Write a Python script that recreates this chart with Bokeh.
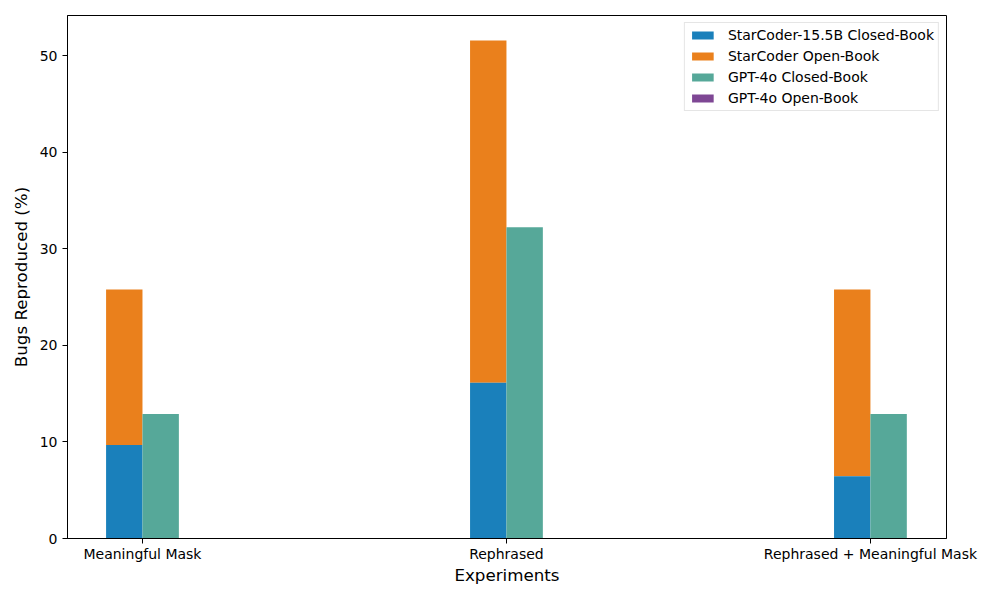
from bokeh.plotting import figure
from bokeh.models import Range1d, FixedTicker, Legend, LegendItem
from bokeh.embed import file_html
from bokeh.resources import INLINE

categories = ["Meaningful Mask", "Rephrased", "Rephrased + Meaningful Mask"]
starcoder_closed = [9.68, 16.13, 6.45]
starcoder_open_total = [25.81, 51.61, 25.81]
gpt4o_closed = [12.90, 32.26, 12.90]
gpt4o_open = [0.0, 0.0, 0.0]

series_names = ["StarCoder-15.5B Closed-Book", "StarCoder Open-Book",
                "GPT-4o Closed-Book", "GPT-4o Open-Book"]
colors = ["#1a80bb", "#ea801c", "#56a899", "#7e4794"]

x = list(range(len(categories)))
w = 0.1
x_left = [i - w / 2 for i in x]
x_right = [i + w / 2 for i in x]

FONT = "DejaVu Sans"

p = figure(width=984, height=587, output_backend="svg", toolbar_location=None,
           x_range=Range1d(-0.206, 2.209), y_range=Range1d(0, 54.19),
           min_border_left=67, min_border_right=38, min_border_top=15, min_border_bottom=35)

r_open = p.vbar(x=x_left, bottom=starcoder_closed, top=starcoder_open_total, width=w,
                fill_color=colors[1], line_color=None)
r_closed = p.vbar(x=x_left, bottom=0, top=starcoder_closed, width=w,
                  fill_color=colors[0], line_color=None)
r_gc = p.vbar(x=x_right, bottom=0, top=gpt4o_closed, width=w,
              fill_color=colors[2], line_color=None)
r_go = p.vbar(x=x_right, bottom=gpt4o_closed, top=[a + b for a, b in zip(gpt4o_closed, gpt4o_open)],
              width=w, fill_color=colors[3], line_color=None)

p.xgrid.visible = False
p.ygrid.visible = False
p.outline_line_color = "black"
p.outline_line_width = 1
p.background_fill_color = "white"
p.border_fill_color = "white"

p.xaxis.ticker = FixedTicker(ticks=x)
p.xaxis.major_label_overrides = {i: c for i, c in zip(x, categories)}
p.yaxis.ticker = FixedTicker(ticks=[0, 10, 20, 30, 40, 50])

for ax in (p.xaxis[0], p.yaxis[0]):
    ax.axis_line_color = "black"
    ax.major_tick_line_color = "black"
    ax.major_tick_out = 5
    ax.major_tick_in = 0
    ax.minor_tick_line_color = None
    ax.major_label_text_font = FONT
    ax.major_label_text_font_size = "14px"
    ax.major_label_text_color = "black"
    ax.axis_label_text_font = FONT
    ax.axis_label_text_font_size = "16.7px"
    ax.axis_label_text_font_style = "normal"
    ax.axis_label_text_color = "black"
    ax.major_label_standoff = 5

p.xaxis.major_label_standoff = 2
p.xaxis.axis_label = "Experiments"
p.yaxis.axis_label = "Bugs Reproduced (%)"
p.xaxis.axis_label_standoff = 0
p.yaxis.axis_label_standoff = 6

legend = Legend(items=[LegendItem(label=series_names[0], renderers=[r_closed]),
                       LegendItem(label=series_names[1], renderers=[r_open]),
                       LegendItem(label=series_names[2], renderers=[r_gc]),
                       LegendItem(label=series_names[3], renderers=[r_go])],
                location="top_right")
legend.margin = 7
legend.padding = 4
legend.spacing = 5
legend.glyph_width = 27
legend.glyph_height = 10
legend.label_height = 14
legend.label_standoff = 12
legend.label_text_font = FONT
legend.label_text_font_size = "14px"
legend.label_text_color = "black"
legend.border_line_color = "#cccccc"
legend.border_line_width = 1
legend.background_fill_alpha = 0.8
p.add_layout(legend)

open("out.html", "w").write(file_html(p, INLINE))
